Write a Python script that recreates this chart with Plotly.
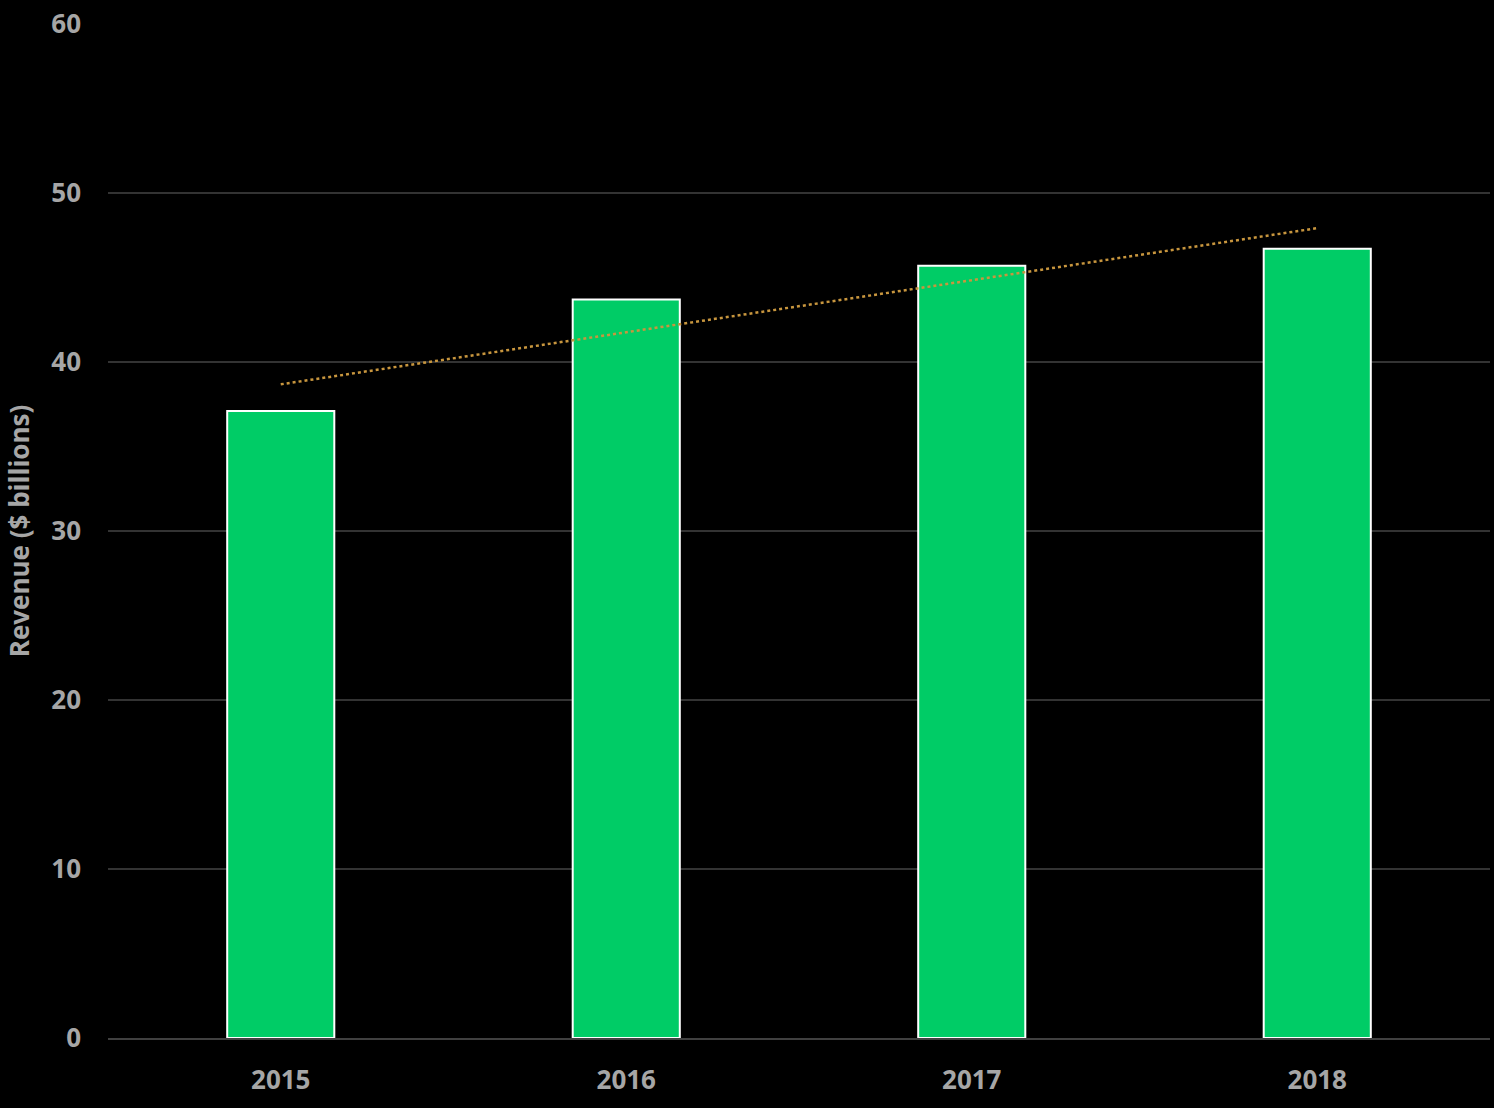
import numpy as np
import plotly.graph_objects as go

years = ["2015", "2016", "2017", "2018"]
revenue = [37.1, 43.7, 45.7, 46.7]  # $ billions

y_title = "Revenue ($ billions)"
x_title = "Year"
chart_title = "Revenue Growth"

# linear trend (like the Excel trendline)
idx = np.arange(len(years))
slope, intercept = np.polyfit(idx, revenue, 1)
trend = [intercept + slope * i for i in (idx[0], idx[-1])]

font_name = "Open Sans"
grey = "#a6a6a6"

fig = go.Figure()
fig.add_trace(go.Bar(
    x=years, y=revenue,
    width=0.31,
    marker=dict(color="#00cc66", line=dict(color="white", width=2)),
    showlegend=False,
))
fig.add_trace(go.Scatter(
    x=[years[0], years[-1]], y=trend,
    mode="lines",
    line=dict(color="#c8963e", width=2.5, dash="dot"),
    showlegend=False,
))

fig.update_layout(
    width=1494, height=1108,
    paper_bgcolor="black", plot_bgcolor="black",
    margin=dict(l=108, r=4, t=24, b=70),
    font=dict(family=font_name, color=grey, size=26),
    xaxis=dict(
        type="category", range=[-0.5, 3.5],
        showgrid=False, zeroline=False,
        showline=True, linecolor="#404040", linewidth=2,
        ticks="", tickfont=dict(size=26, color=grey, family=font_name, weight="bold"),
        ticklabelstandoff=18,
    ),
    yaxis=dict(
        range=[0, 60], dtick=10,
        showgrid=True, gridcolor="#333333", gridwidth=2,
        zeroline=False, showline=False,
        tickfont=dict(size=26, color=grey, family=font_name, weight="bold"),
        ticklabelstandoff=26,
        title=dict(text=y_title, font=dict(size=26, color=grey, family=font_name, weight="bold"),
                   standoff=14),
    ),
    annotations=[
        dict(text=chart_title, xref="paper", yref="paper", x=0.462, y=1.0, yshift=24,
             yanchor="bottom", showarrow=False,
             font=dict(size=34, color=grey, family=font_name, weight="bold")),
        dict(text=x_title, xref="paper", yref="paper", x=0.462, y=0, yshift=-62,
             yanchor="top", showarrow=False,
             font=dict(size=26, color=grey, family=font_name, weight="bold")),
    ],
)

# drop the page margin so the chart sits flush in the window
fig.write_html("out.html", config={"displayModeBar": False},
               post_script="document.body.style.margin='0';document.body.style.background='black';")
